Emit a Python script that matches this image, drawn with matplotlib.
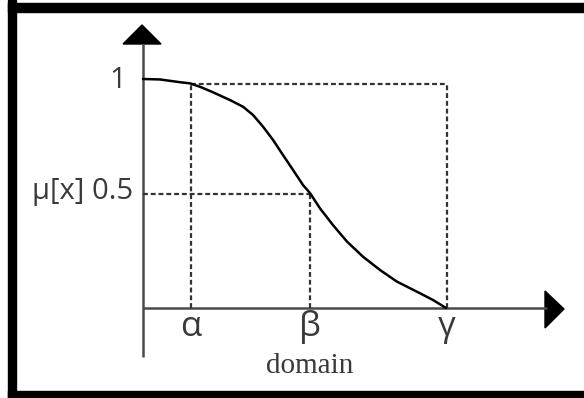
import matplotlib
matplotlib.use("Agg")
import matplotlib.pyplot as plt
from matplotlib.patches import Polygon, Rectangle

# data (x in arbitrary domain units, y membership)
curve_x = [0.0, 0.17, 0.37, 0.47, 0.57, 0.70, 0.87, 1.00, 1.10, 1.20, 1.30, 1.40, 1.50,
           1.60, 1.67, 1.77, 1.90, 2.04, 2.20, 2.37, 2.54, 2.74, 2.90, 3.03]
curve_y = [1.0, 0.998, 0.986, 0.981, 0.966, 0.942, 0.908, 0.879, 0.843, 0.792, 0.734, 0.668, 0.603,
           0.537, 0.502, 0.435, 0.362, 0.290, 0.224, 0.166, 0.115, 0.071, 0.035, 0.0]
alpha_x, beta_x, gamma_x = 0.48, 1.67, 3.04
top_level = 0.98
half_level = 0.5
x_labels = ["α", "β", "γ"]
y_labels = ["1", "μ[x] 0.5"]
x_title = "domain"

W, H = 584, 398
fig = plt.figure(figsize=(W / 100, H / 100), dpi=100)
ax = fig.add_axes([0, 0, 1, 1])
# pixel <-> data mapping: x = (px-143)/100, y = (308-py)/229
ax.set_xlim((0 - 143) / 100, (W - 143) / 100)
ax.set_ylim((308 - H) / 229, 308 / 229)
ax.axis("off")

def px(x):
    return (x - 143) / 100

def py(y):
    return (308 - y) / 229

axis_col = "#4a4a4a"
dash_col = "#333333"
txt_col = "#3a3a3a"

# frame
fig.patches.append(Rectangle((8 / W, 0), 8 / W, 1, transform=fig.transFigure, color="black", zorder=0))
fig.patches.append(Rectangle((8 / W, 1 - 12 / H), 1, 9 / H, transform=fig.transFigure, color="black", zorder=0))
fig.patches.append(Rectangle((8 / W, 0), 1, 7 / H, transform=fig.transFigure, color="black", zorder=0))

# axes lines
ax.plot([0, 0], [py(357), py(44)], color=axis_col, lw=1.8, solid_capstyle="butt")
ax.plot([0, px(547)], [0, 0], color=axis_col, lw=1.8, solid_capstyle="butt")
ax.add_patch(Polygon([[px(123), py(44)], [px(161), py(44)], [px(142), py(25)]], closed=True, color="black"))
ax.add_patch(Polygon([[px(545), py(291)], [px(545), py(328)], [px(564), py(309)]], closed=True, color="black"))

# dashed guides
dkw = dict(color=dash_col, lw=1.6, linestyle=(0, (2.2, 1.3)))
ax.plot([alpha_x, gamma_x], [top_level, top_level], **dkw)
ax.plot([alpha_x, alpha_x], [0, top_level], **dkw)
ax.plot([gamma_x, gamma_x], [0, top_level], **dkw)
ax.plot([0, beta_x], [half_level, half_level], **dkw)
ax.plot([beta_x, beta_x], [0, half_level], **dkw)

# curve
ax.plot(curve_x, curve_y, color="black", lw=1.8, solid_capstyle="round", solid_joinstyle="round")

# labels
fam = ["Open Sans", "DejaVu Sans"]
ax.text(px(126), py(81), y_labels[0], ha="right", va="center", fontsize=21, color=txt_col, family=fam)
ax.text(px(133), py(191), y_labels[1], ha="right", va="center", fontsize=21, color=txt_col, family=fam)
for lx, lab in zip([alpha_x, beta_x, gamma_x], x_labels):
    ax.text(lx, py(327), lab, ha="center", va="center", fontsize=25, color=txt_col, family=fam)
ax.text(beta_x, py(366), x_title, ha="center", va="center", fontsize=21, color=txt_col, family="Liberation Serif")

fig.savefig("out.png", dpi=100, facecolor="white")
